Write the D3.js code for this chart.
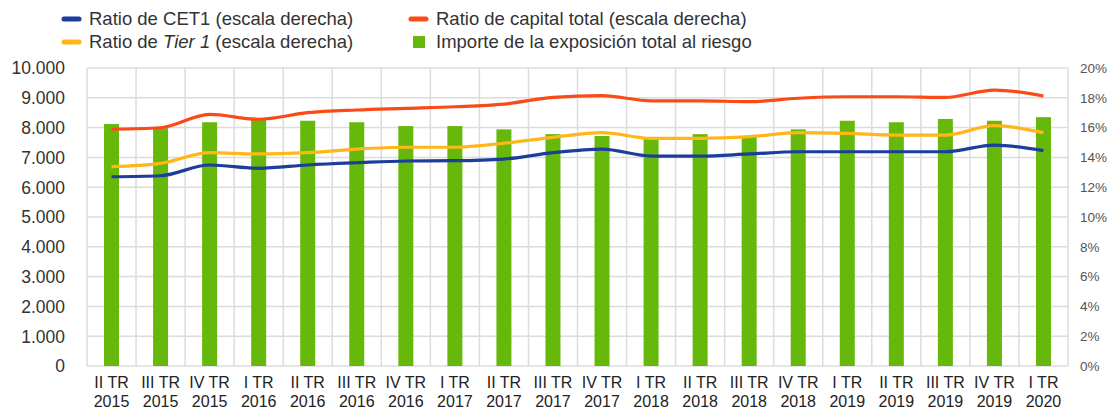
<!DOCTYPE html>
<html>
<head>
<meta charset="utf-8">
<script src="https://cdn.jsdelivr.net/npm/d3@7"></script>
<style>
  body { margin: 0; background: #fff; }
  text { font-family: "Liberation Sans", Arial, sans-serif; }
</style>
</head>
<body>
<svg id="chart" width="1112" height="410"></svg>
<script>
// Quarters (label line 1 / line 2)
var quarters = ["II TR","III TR","IV TR","I TR","II TR","III TR","IV TR","I TR","II TR","III TR",
                "IV TR","I TR","II TR","III TR","IV TR","I TR","II TR","III TR","IV TR","I TR"];
var years = ["2015","2015","2015","2016","2016","2016","2016","2017","2017","2017",
             "2017","2018","2018","2018","2018","2019","2019","2019","2019","2020"];

// Importe de la exposición total al riesgo (left scale)
var exposure = [8120,7980,8180,8280,8230,8180,8050,8050,7940,7780,
                7720,7660,7780,7690,7940,8230,8180,8290,8230,8350];
// Ratios (right scale), in %
var cet1 = [12.70,12.77,13.49,13.27,13.49,13.64,13.76,13.78,13.89,14.32,
            14.56,14.09,14.09,14.23,14.38,14.38,14.38,14.38,14.83,14.45];
var tier1 = [13.38,13.60,14.32,14.23,14.32,14.56,14.68,14.68,14.95,15.35,
             15.66,15.28,15.28,15.39,15.66,15.61,15.50,15.50,16.13,15.66];
var totalCap = [15.89,15.99,16.89,16.56,17.00,17.18,17.29,17.40,17.58,18.03,
                18.14,17.80,17.80,17.74,17.97,18.07,18.07,18.03,18.52,18.12];

var leftTicks = [0,1000,2000,3000,4000,5000,6000,7000,8000,9000,10000];
var rightTicks = [0,2,4,6,8,10,12,14,16,18,20];

var colors = {cet1: "#1b3d9c", tier1: "#ffb619", total: "#fa4a17", bars: "#66b80a"};

var $svg = d3.select("#chart");
// plot area (note: "top" is taken by window.top)
var plotL = 87, plotR = 1068, plotT = 68, plotB = 366;

var x = d3.scaleBand().domain(d3.range(quarters.length)).range([plotL, plotR]).padding(0);
var yL = d3.scaleLinear().domain([0, 10000]).range([plotB, plotT]);
var yR = d3.scaleLinear().domain([0, 20]).range([plotB, plotT]);

var es = d3.formatLocale({decimal: ",", thousands: ".", grouping: [3], currency: ["", "€"]});
var fmtL = es.format(",d");

// grid
var $grid = $svg.append("g").attr("stroke", "#dcdcdc").attr("stroke-width", 1.5);
$grid.selectAll("line.h").data(leftTicks).join("line")
    .attr("x1", plotL).attr("x2", plotR)
    .attr("y1", d => yL(d)).attr("y2", d => yL(d));
$grid.selectAll("line.v").data(d3.range(quarters.length + 1)).join("line")
    .attr("x1", d => plotL + d * x.step()).attr("x2", d => plotL + d * x.step())
    .attr("y1", plotT).attr("y2", plotB);

// left axis labels
$svg.append("g").selectAll("text").data(leftTicks).join("text")
    .attr("x", 65).attr("y", d => yL(d))
    .attr("dy", "0.36em")
    .attr("text-anchor", "end")
    .attr("font-size", 17.5).attr("fill", "#333")
    .text(d => fmtL(d));

// right axis labels
$svg.append("g").selectAll("text").data(rightTicks).join("text")
    .attr("x", 1080).attr("y", d => yR(d))
    .attr("dy", "0.36em")
    .attr("font-size", 13.5).attr("fill", "#555")
    .text(d => d + "%");

// bars
var barW = 15;
$svg.append("g").selectAll("rect").data(exposure).join("rect")
    .attr("x", (d, i) => x(i) + x.bandwidth() / 2 - barW / 2)
    .attr("width", barW)
    .attr("y", d => yL(d))
    .attr("height", d => plotB - yL(d))
    .attr("fill", colors.bars);

// lines
var line = d3.line()
    .x((d, i) => x(i) + x.bandwidth() / 2)
    .y(d => yR(d))
    .curve(d3.curveMonotoneX);
[[totalCap, colors.total], [tier1, colors.tier1], [cet1, colors.cet1]].forEach(function(s) {
    $svg.append("path").datum(s[0])
        .attr("d", line)
        .attr("fill", "none")
        .attr("stroke", s[1])
        .attr("stroke-width", 3.2)
        .attr("stroke-linejoin", "round");
});

// x labels
var $xl = $svg.append("g").attr("font-size", 16).attr("fill", "#222").attr("text-anchor", "middle");
$xl.selectAll("text.q").data(quarters).join("text")
    .attr("x", (d, i) => x(i) + x.bandwidth() / 2).attr("y", 388)
    .text(d => d);
$xl.selectAll("text.yr").data(years).join("text")
    .attr("x", (d, i) => x(i) + x.bandwidth() / 2).attr("y", 407)
    .text(d => d);

// legend
var legend = [
    {label: "Ratio de CET1 (escala derecha)", color: colors.cet1, type: "line", x: 62, y: 19},
    {label: "Ratio de capital total (escala derecha)", color: colors.total, type: "line", x: 409, y: 19},
    {label: ["Ratio de ", "Tier 1", " (escala derecha)"], color: colors.tier1, type: "line", x: 62, y: 42},
    {label: "Importe de la exposición total al riesgo", color: colors.bars, type: "rect", x: 409, y: 42}
];
var $leg = $svg.append("g");
legend.forEach(function(l) {
    var $g = $leg.append("g").attr("transform", `translate(${l.x} ${l.y})`);
    if (l.type == "line") {
        $g.append("line").attr("x1", 2).attr("x2", 17).attr("y1", 0).attr("y2", 0)
            .attr("stroke", l.color).attr("stroke-width", 5).attr("stroke-linecap", "round");
    } else {
        $g.append("rect").attr("x", 4).attr("y", -6).attr("width", 12).attr("height", 12).attr("fill", l.color);
    }
    var $t = $g.append("text").attr("x", 27).attr("dy", "0.35em")
        .attr("font-size", 18.5).attr("fill", "#333");
    if (Array.isArray(l.label)) {
        l.label.forEach(function(part, i) {
            $t.append("tspan").text(part).attr("font-style", i == 1 ? "italic" : null);
        });
    } else {
        $t.text(l.label);
    }
});
</script>
</body>
</html>
